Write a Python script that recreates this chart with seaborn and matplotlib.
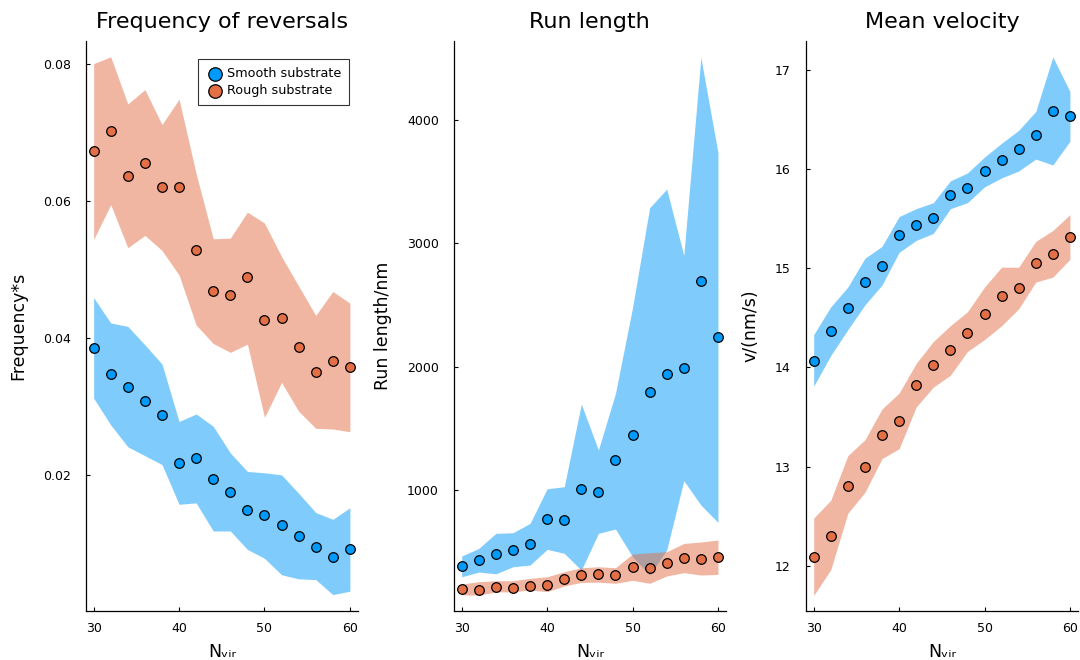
import numpy as np
import pandas as pd
import matplotlib
matplotlib.use('Agg')
import matplotlib.pyplot as plt
import seaborn as sns

sns.set_style('ticks')
plt.rcParams['font.family'] = ['DejaVu Sans']
plt.rcParams['text.color'] = 'black'
plt.rcParams['axes.labelcolor'] = 'black'
plt.rcParams['xtick.color'] = 'black'
plt.rcParams['ytick.color'] = 'black'

# x values
n_vir = [30, 32, 34, 36, 38, 40, 42, 44, 46, 48, 50, 52, 54, 56, 58, 60]

# Frequency of reversals
freq_smooth = [0.0386, 0.0348, 0.0328, 0.0308, 0.0288, 0.0217, 0.0224, 0.0194,
               0.0175, 0.0148, 0.0141, 0.0127, 0.0110, 0.0095, 0.0080, 0.0092]
freq_smooth_hi = [0.0459, 0.0422, 0.0417, 0.0390, 0.0362, 0.0278, 0.0289, 0.0271,
                  0.0232, 0.0205, 0.0203, 0.0200, 0.0173, 0.0145, 0.0135, 0.0152]
freq_smooth_lo = [0.0312, 0.0273, 0.0241, 0.0228, 0.0215, 0.0157, 0.0159, 0.0118,
                  0.0118, 0.0091, 0.0078, 0.0054, 0.0048, 0.0047, 0.0025, 0.0030]
freq_rough = [0.0673, 0.0703, 0.0637, 0.0656, 0.0620, 0.0620, 0.0528, 0.0469,
              0.0463, 0.0489, 0.0426, 0.0429, 0.0387, 0.0350, 0.0367, 0.0357]
freq_rough_hi = [0.0801, 0.0811, 0.0742, 0.0763, 0.0712, 0.0749, 0.0640, 0.0545,
                 0.0546, 0.0584, 0.0568, 0.0519, 0.0476, 0.0433, 0.0468, 0.0451]
freq_rough_lo = [0.0544, 0.0595, 0.0532, 0.0550, 0.0528, 0.0492, 0.0419, 0.0392,
                 0.0379, 0.0391, 0.0284, 0.0335, 0.0293, 0.0268, 0.0267, 0.0263]

# Run length
run_smooth = [380, 432, 483, 515, 559, 764, 756, 1010, 983, 1240, 1445, 1797,
              1943, 1989, 2692, 2238]
run_smooth_hi = [464, 526, 648, 653, 729, 1010, 1026, 1697, 1324, 1784, 2480, 3289,
                 3440, 2903, 4508, 3735]
run_smooth_lo = [296, 334, 320, 377, 391, 518, 486, 350, 648, 683, 459, 310,
                 513, 1075, 878, 737]
run_rough = [194, 186, 210, 207, 223, 231, 275, 310, 318, 308, 377, 369,
             405, 450, 442, 456]
run_rough_hi = [237, 256, 264, 264, 283, 296, 337, 369, 377, 369, 480, 491,
                499, 566, 578, 594]
run_rough_lo = [148, 148, 172, 175, 188, 175, 221, 250, 252, 243, 267, 243,
                302, 329, 310, 315]

# Mean velocity
vel_smooth = [14.063, 14.363, 14.598, 14.863, 15.024, 15.334, 15.431, 15.502,
              15.740, 15.811, 15.976, 16.090, 16.198, 16.339, 16.584, 16.533]
vel_smooth_hi = [14.33, 14.61, 14.81, 15.10, 15.22, 15.52, 15.60, 15.66,
                 15.88, 15.96, 16.12, 16.26, 16.39, 16.58, 17.13, 16.78]
vel_smooth_lo = [13.81, 14.12, 14.38, 14.63, 14.83, 15.16, 15.28, 15.35,
                 15.60, 15.66, 15.82, 15.91, 15.98, 16.10, 16.04, 16.28]
vel_rough = [12.091, 12.296, 12.806, 12.998, 13.320, 13.462, 13.818, 14.026,
             14.174, 14.349, 14.537, 14.719, 14.799, 15.051, 15.139, 15.313]
vel_rough_hi = [12.48, 12.66, 13.11, 13.27, 13.58, 13.74, 14.04, 14.26,
                14.42, 14.56, 14.81, 15.01, 15.01, 15.27, 15.38, 15.54]
vel_rough_lo = [11.70, 11.96, 12.53, 12.74, 13.08, 13.18, 13.60, 13.80,
                13.92, 14.16, 14.28, 14.42, 14.59, 14.86, 14.91, 15.09]

labels = ['Smooth substrate', 'Rough substrate']
colors = ['#009AFA', '#E26F46']

panels = [
    ('Frequency of reversals', 'Frequency*s',
     [(freq_smooth, freq_smooth_lo, freq_smooth_hi), (freq_rough, freq_rough_lo, freq_rough_hi)],
     (0.0001, 0.0834), [0.02, 0.04, 0.06, 0.08], 0.0796),
    ('Run length', 'Run length/nm',
     [(run_smooth, run_smooth_lo, run_smooth_hi), (run_rough, run_rough_lo, run_rough_hi)],
     (18, 4641), [1000, 2000, 3000, 4000], 0.4204),
    ('Mean velocity', 'v/(nm/s)',
     [(vel_smooth, vel_smooth_lo, vel_smooth_hi), (vel_rough, vel_rough_lo, vel_rough_hi)],
     (11.543, 17.29), [12, 13, 14, 15, 16, 17], 0.7463),
]

fig = plt.figure(figsize=(10.8, 6.6), dpi=100)

for i, (title, ylabel, series, ylim, yticks, left) in enumerate(panels):
    ax = fig.add_axes([left, 0.0742, 0.2515, 0.8636])
    for (mid, lo, hi), lab, col in zip(series, labels, colors):
        ax.fill_between(n_vir, lo, hi, color=col, alpha=0.5, linewidth=0, zorder=1)
    for (mid, lo, hi), lab, col in zip(series, labels, colors):
        df = pd.DataFrame({'N': n_vir, 'y': mid})
        sns.scatterplot(data=df, x='N', y='y', ax=ax, color=col, s=48,
                        edgecolor='black', linewidth=0.9, label=lab, zorder=3)
    ax.set_xlim(29.1, 60.9)
    ax.set_ylim(*ylim)
    ax.set_xticks([30, 40, 50, 60])
    ax.set_yticks(yticks)
    ax.set_title(title, fontsize=16, pad=9.5)
    ax.set_xlabel('Nᵥᵢᵣ', fontsize=12.5, labelpad=6)
    ax.set_ylabel(ylabel, fontsize=12.5, labelpad=11)
    ax.tick_params(direction='in', length=3, width=0.8, labelsize=9)
    ax.tick_params(axis='y', pad=11)
    ax.tick_params(axis='x', pad=8)
    for side in ['top', 'right']:
        ax.spines[side].set_visible(False)
    for side in ['left', 'bottom']:
        ax.spines[side].set_linewidth(0.9)
        ax.spines[side].set_color('black')
    if i == 0:
        leg = ax.legend(loc='upper right', bbox_to_anchor=(0.968, 0.968), fontsize=9.2,
                        frameon=True, fancybox=False, edgecolor='black',
                        handletextpad=0.1, borderpad=0.6, labelspacing=0.35,
                        handlelength=1.6, markerscale=1.4, borderaxespad=0)
        leg.get_frame().set_linewidth(0.8)
    else:
        ax.get_legend().remove()

fig.savefig('out.png', dpi=100)
